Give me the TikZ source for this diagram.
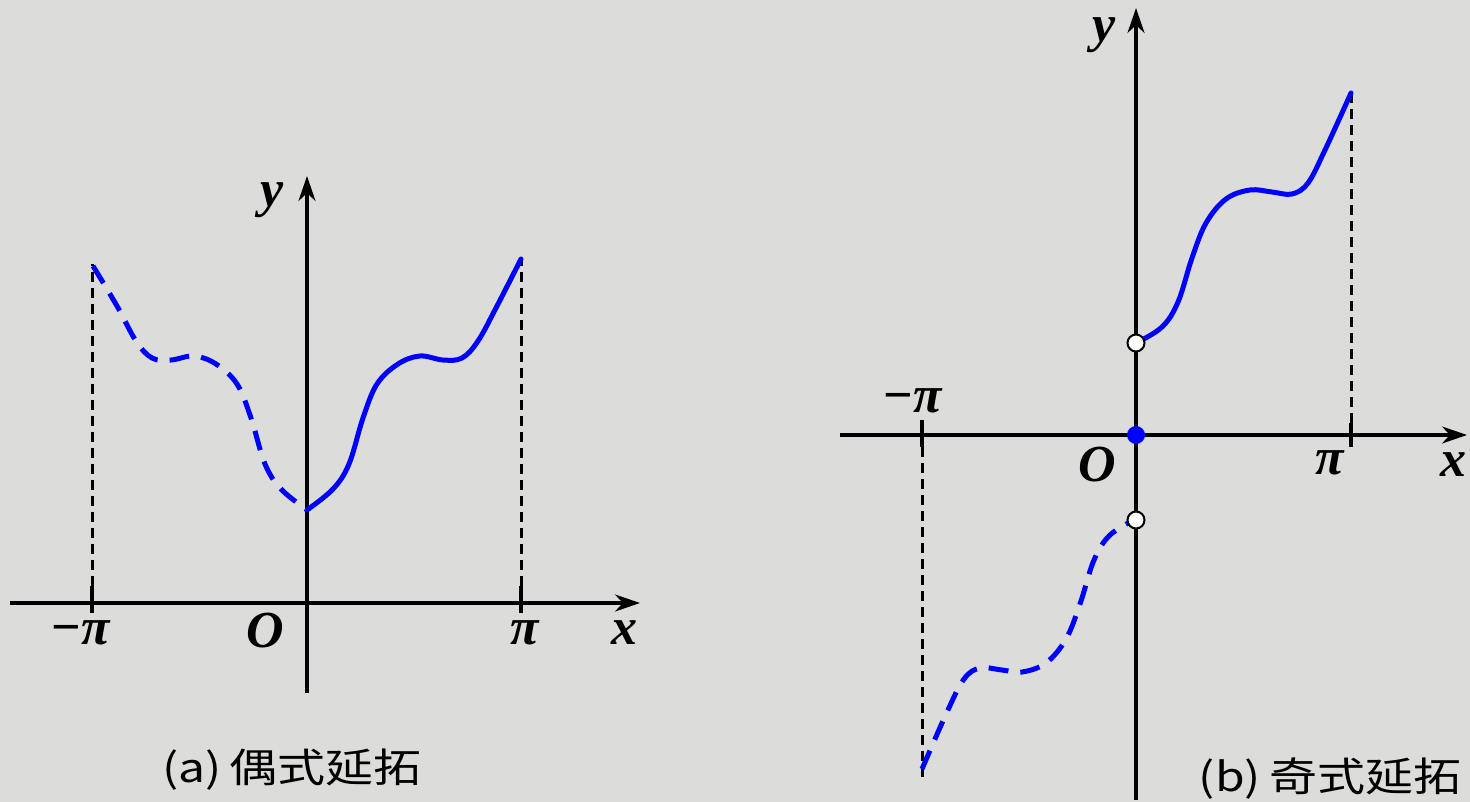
\documentclass[tikz,border=0pt]{standalone}
\usepackage{fontspec}
\setmainfont{Liberation Serif}
\newfontfamily\cjk{Noto Sans CJK SC}
\usetikzlibrary{arrows.meta}
\definecolor{bg}{RGB}{220,220,218}
\definecolor{curveblue}{RGB}{0,0,255}
\begin{document}
\begin{tikzpicture}[x=1pt,y=-1pt,
  axis/.style={line width=3.4pt,-{Stealth[length=25pt,width=17pt,inset=8pt]}},
  tickmark/.style={line width=3.6pt},
  guide/.style={line width=3pt,dash pattern=on 10pt off 6pt},
  solidcurve/.style={line width=5pt,curveblue,line cap=round},
  dashcurve/.style={line width=5pt,curveblue,dash pattern=on 20pt off 12pt},
  lab/.style={inner sep=0pt,font=\fontsize{52}{52}\selectfont},
  captxt/.style={inner sep=0pt,font=\cjk\fontsize{40}{40}\selectfont},
  hole/.style={circle,draw=black,fill=white,line width=2pt,minimum size=17pt,inner sep=0pt},
  dotb/.style={circle,fill=curveblue,minimum size=18pt,inner sep=0pt}
]
\useasboundingbox[fill=bg] (0,0) rectangle (1470,802);

% ---------- panel (a) ----------
\coordinate (axL) at (10,603);
\coordinate (axR) at (640,603);
\coordinate (ayB) at (307,693);
\coordinate (ayT) at (307,176);
\draw[axis] (axL) -- (axR);
\draw[axis] (ayB) -- (ayT);
\coordinate (mpiAtop) at (92,264);
\coordinate (piAtop) at (521,258);
\coordinate (mpiAt1) at (92,586);
\coordinate (mpiAt2) at (92,613);
\coordinate (piAt1) at (521,586);
\coordinate (piAt2) at (521,613);
\draw[tickmark] (mpiAt1) -- (mpiAt2);
\draw[tickmark] (piAt1) -- (piAt2);
\draw[guide] (mpiAt1) -- (mpiAtop);
\draw[guide] (piAt1) -- (piAtop);
\draw[solidcurve] plot[smooth,tension=0.6] coordinates {(307,510) (333,489) (349,464) (363,418) (377,384) (398,364) (420,356) (443,360) (462,358) (478,341) (497,306) (521,259)};
\draw[dashcurve] plot[smooth,tension=0.6] coordinates {(93,266) (117,306) (136,341) (152,358) (171,360) (194,356) (216,364) (237,384) (251,418) (265,464) (281,489) (307,510)};
\node[lab] (xA) at (624,633) {\textbf{\textit{x}}};
\node[lab] (yA) at (272,200) {\textbf{\textit{y}}};
\node[lab] (oA) at (265,631) {\textbf{\textit{O}}};
\node[lab] (mpiAl) at (81,633) {\textbf{−\textit{π}}};
\node[lab] (piAl) at (525,633) {\textbf{\textit{π}}};
\node[captxt] (capA) at (292,770) {\scalebox{1.2}[1]{(a)\,偶式延拓}};

% ---------- panel (b) ----------
\coordinate (bxL) at (840,435);
\coordinate (bxR) at (1467,435);
\coordinate (byB) at (1136,800);
\coordinate (byT) at (1136,8);
\draw[axis] (bxL) -- (bxR);
\draw[axis] (byB) -- (byT);
\coordinate (mpiBt1) at (922,420);
\coordinate (mpiBt2) at (922,447);
\coordinate (mpiBbot) at (922,778);
\coordinate (piBt1) at (1351,423);
\coordinate (piBt2) at (1351,447);
\coordinate (piBtop) at (1351,92);
\draw[tickmark] (mpiBt1) -- (mpiBt2);
\draw[tickmark] (piBt1) -- (piBt2);
\draw[guide] (mpiBt2) -- (mpiBbot);
\draw[guide] (piBt1) -- (piBtop);
\draw[solidcurve] plot[smooth,tension=0.6] coordinates {(1136,343) (1162,327) (1178,302) (1192,258) (1206,223) (1226,199) (1250,190) (1272,192) (1292,194) (1308,183) (1325,150) (1351,93)};
\draw[dashcurve] plot[smooth,tension=0.6] coordinates {(922,769) (947,712) (964,679) (980,668) (1002,670) (1022,672) (1046,663) (1066,639) (1080,604) (1094,560) (1110,535) (1136,519)};
\node[hole] (hU) at (1136,343) {};
\node[hole] (hL) at (1136,520) {};
\node[dotb] (o) at (1136,435) {};
\node[lab] (xB) at (1453,465) {\textbf{\textit{x}}};
\node[lab] (yB) at (1104,35) {\textbf{\textit{y}}};
\node[lab] (oB) at (1097,465) {\textbf{\textit{O}}};
\node[lab] (mpiBl) at (913,401) {\textbf{−\textit{π}}};
\node[lab] (piBl) at (1330,463) {\textbf{\textit{π}}};
\node[captxt] (capB) at (1330,779) {\scalebox{1.2}[1]{(b)\,奇式延拓}};
\end{tikzpicture}
\end{document}
